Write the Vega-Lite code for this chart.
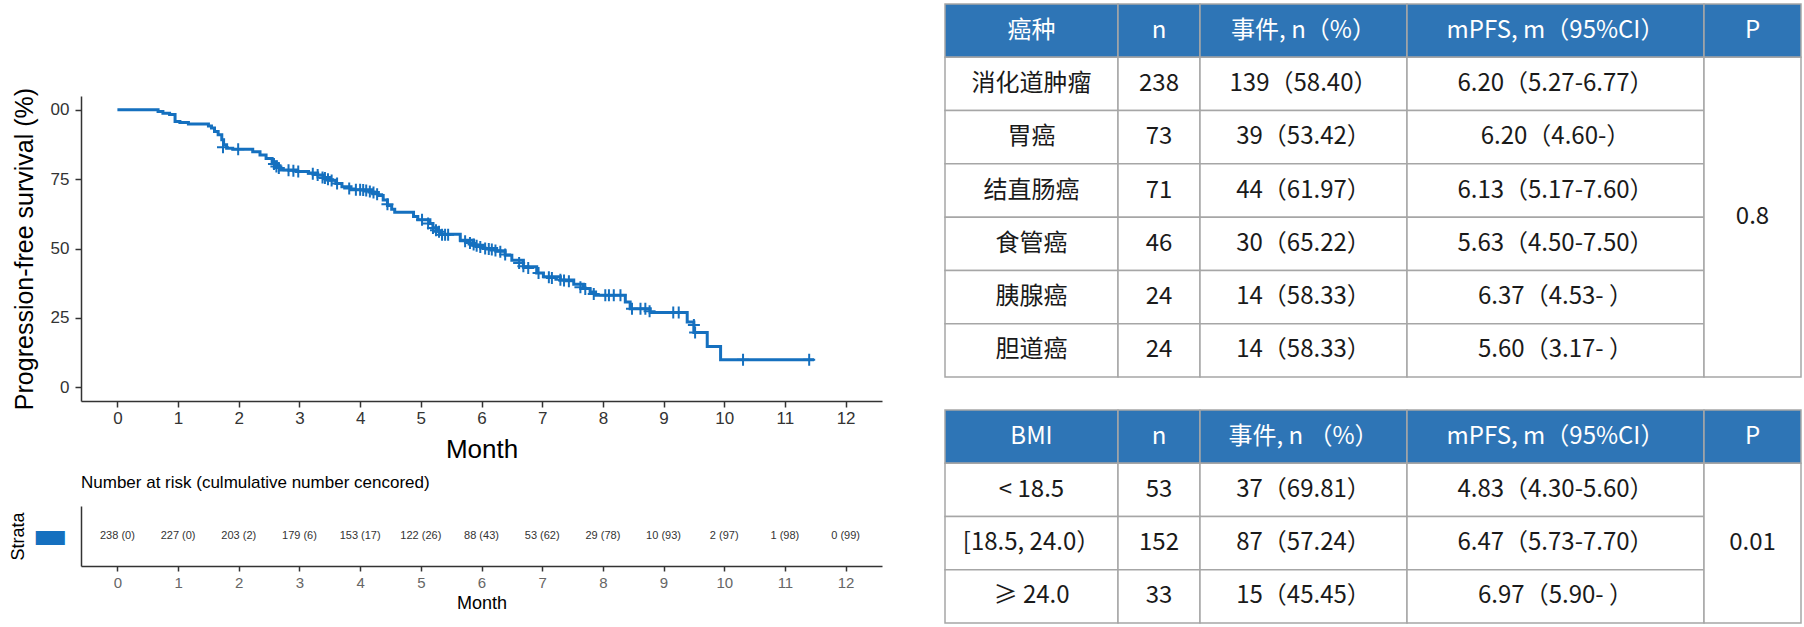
{
  "$schema": "https://vega.github.io/schema/vega-lite/v6.json",
  "background": "white",
  "padding": {"left": 9, "top": 3, "right": 0, "bottom": 0},
  "config": {"view": {"stroke": null}, "font": "Liberation Sans"},
  "datasets": {
    "km": [
      {"t":0,"s":100},{"t":0.67,"s":99.4},{"t":0.75,"s":98.8},{"t":0.86,"s":98.3},{"t":0.95,"s":95.8},{"t":1.03,"s":95.4},{"t":1.17,"s":94.9},{"t":1.5,"s":94.2},{"t":1.55,"s":93.5},{"t":1.6,"s":92.2},{"t":1.66,"s":91},{"t":1.72,"s":89.2},{"t":1.75,"s":87.4},{"t":1.8,"s":86.2},{"t":1.9,"s":85.8},{"t":2.23,"s":84.9},{"t":2.35,"s":83.7},{"t":2.45,"s":82.5},{"t":2.55,"s":81.3},{"t":2.62,"s":79.8},{"t":2.68,"s":78.3},{"t":2.95,"s":77.8},{"t":3.15,"s":77.2},{"t":3.3,"s":76.5},{"t":3.4,"s":75.6},{"t":3.5,"s":74.6},{"t":3.6,"s":73.4},{"t":3.7,"s":72.3},{"t":3.85,"s":71.2},{"t":4.2,"s":70.2},{"t":4.3,"s":69.1},{"t":4.38,"s":67.5},{"t":4.45,"s":65.5},{"t":4.52,"s":64.2},{"t":4.57,"s":63.1},{"t":4.88,"s":61.5},{"t":4.95,"s":60.4},{"t":5.15,"s":59},{"t":5.2,"s":57.5},{"t":5.28,"s":56.2},{"t":5.33,"s":55.1},{"t":5.65,"s":53},{"t":5.87,"s":51.2},{"t":6.03,"s":50},{"t":6.25,"s":49.2},{"t":6.39,"s":47.6},{"t":6.5,"s":45.8},{"t":6.69,"s":43.4},{"t":6.91,"s":41.2},{"t":7.02,"s":39.8},{"t":7.3,"s":38.6},{"t":7.52,"s":37.1},{"t":7.68,"s":35.6},{"t":7.79,"s":34.3},{"t":7.88,"s":33.1},{"t":8.37,"s":30.7},{"t":8.45,"s":28.3},{"t":8.78,"s":26.9},{"t":9.39,"s":23.5},{"t":9.5,"s":19.7},{"t":9.72,"s":14.7},{"t":9.94,"s":9.9},{"t":11.48,"s":9.9}
    ],
    "cens": [
      {"t":1.74,"s":86.5},{"t":1.99,"s":85.8},{"t":2.58,"s":80.5},{"t":2.62,"s":79.6},{"t":2.66,"s":79},{"t":2.82,"s":78.2},{"t":2.9,"s":78},{"t":2.98,"s":77.8},{"t":3.22,"s":77},{"t":3.3,"s":76.5},{"t":3.38,"s":75.6},{"t":3.42,"s":75.4},{"t":3.47,"s":75},{"t":3.53,"s":74.5},{"t":3.62,"s":73.4},{"t":3.82,"s":71.6},{"t":3.93,"s":71.2},{"t":4.0,"s":71.2},{"t":4.05,"s":71.1},{"t":4.1,"s":70.9},{"t":4.16,"s":70.6},{"t":4.22,"s":70.2},{"t":4.28,"s":69.6},{"t":4.45,"s":66},{"t":5.02,"s":60.4},{"t":5.12,"s":59},{"t":5.2,"s":57.4},{"t":5.25,"s":56.6},{"t":5.3,"s":56},{"t":5.35,"s":55},{"t":5.4,"s":55},{"t":5.45,"s":55},{"t":5.73,"s":52.6},{"t":5.81,"s":52},{"t":5.87,"s":51.4},{"t":5.92,"s":51},{"t":5.98,"s":50.5},{"t":6.06,"s":50},{"t":6.12,"s":49.8},{"t":6.17,"s":49.6},{"t":6.23,"s":49.3},{"t":6.31,"s":48.8},{"t":6.39,"s":47.8},{"t":6.62,"s":44.8},{"t":6.69,"s":43.6},{"t":6.77,"s":43},{"t":6.94,"s":41.2},{"t":7.11,"s":39.6},{"t":7.16,"s":39.4},{"t":7.3,"s":38.7},{"t":7.36,"s":38.5},{"t":7.44,"s":38.2},{"t":7.63,"s":36},{"t":7.71,"s":35.4},{"t":7.85,"s":33.6},{"t":8.04,"s":33.1},{"t":8.1,"s":33.1},{"t":8.18,"s":33.1},{"t":8.29,"s":33.1},{"t":8.48,"s":28.3},{"t":8.62,"s":28.3},{"t":8.7,"s":28.3},{"t":8.77,"s":27.4},{"t":9.16,"s":26.9},{"t":9.25,"s":26.9},{"t":9.5,"s":22.4},{"t":9.52,"s":19.7},{"t":10.31,"s":9.9},{"t":11.4,"s":9.9}
    ],
    "risk": [
      {"t":0,"strata":"All","label":"238 (0)"},{"t":1,"strata":"All","label":"227 (0)"},{"t":2,"strata":"All","label":"203 (2)"},{"t":3,"strata":"All","label":"179 (6)"},{"t":4,"strata":"All","label":"153 (17)"},{"t":5,"strata":"All","label":"122 (26)"},{"t":6,"strata":"All","label":"88 (43)"},{"t":7,"strata":"All","label":"53 (62)"},{"t":8,"strata":"All","label":"29 (78)"},{"t":9,"strata":"All","label":"10 (93)"},{"t":10,"strata":"All","label":"2 (97)"},{"t":11,"strata":"All","label":"1 (98)"},{"t":12,"strata":"All","label":"0 (99)"}
    ],
    "cells": [
      {"c0":0,"c1":1,"r0":0,"r1":1,"kind":"head","text":"癌种"},
      {"c0":1,"c1":2,"r0":0,"r1":1,"kind":"head","text":"n"},
      {"c0":2,"c1":3,"r0":0,"r1":1,"kind":"head","text":"事件, n（%）"},
      {"c0":3,"c1":4,"r0":0,"r1":1,"kind":"head","text":"mPFS, m（95%CI）"},
      {"c0":4,"c1":5,"r0":0,"r1":1,"kind":"head","text":"P"},
      {"c0":0,"c1":1,"r0":1,"r1":2,"kind":"body","text":"消化道肿瘤"},
      {"c0":1,"c1":2,"r0":1,"r1":2,"kind":"body","text":"238"},
      {"c0":2,"c1":3,"r0":1,"r1":2,"kind":"body","text":"139（58.40）"},
      {"c0":3,"c1":4,"r0":1,"r1":2,"kind":"body","text":"6.20（5.27-6.77）"},
      {"c0":0,"c1":1,"r0":2,"r1":3,"kind":"body","text":"胃癌"},
      {"c0":1,"c1":2,"r0":2,"r1":3,"kind":"body","text":"73"},
      {"c0":2,"c1":3,"r0":2,"r1":3,"kind":"body","text":"39（53.42）"},
      {"c0":3,"c1":4,"r0":2,"r1":3,"kind":"body","text":"6.20（4.60-）"},
      {"c0":0,"c1":1,"r0":3,"r1":4,"kind":"body","text":"结直肠癌"},
      {"c0":1,"c1":2,"r0":3,"r1":4,"kind":"body","text":"71"},
      {"c0":2,"c1":3,"r0":3,"r1":4,"kind":"body","text":"44（61.97）"},
      {"c0":3,"c1":4,"r0":3,"r1":4,"kind":"body","text":"6.13（5.17-7.60）"},
      {"c0":0,"c1":1,"r0":4,"r1":5,"kind":"body","text":"食管癌"},
      {"c0":1,"c1":2,"r0":4,"r1":5,"kind":"body","text":"46"},
      {"c0":2,"c1":3,"r0":4,"r1":5,"kind":"body","text":"30（65.22）"},
      {"c0":3,"c1":4,"r0":4,"r1":5,"kind":"body","text":"5.63（4.50-7.50）"},
      {"c0":0,"c1":1,"r0":5,"r1":6,"kind":"body","text":"胰腺癌"},
      {"c0":1,"c1":2,"r0":5,"r1":6,"kind":"body","text":"24"},
      {"c0":2,"c1":3,"r0":5,"r1":6,"kind":"body","text":"14（58.33）"},
      {"c0":3,"c1":4,"r0":5,"r1":6,"kind":"body","text":"6.37（4.53- ）"},
      {"c0":0,"c1":1,"r0":6,"r1":7,"kind":"body","text":"胆道癌"},
      {"c0":1,"c1":2,"r0":6,"r1":7,"kind":"body","text":"24"},
      {"c0":2,"c1":3,"r0":6,"r1":7,"kind":"body","text":"14（58.33）"},
      {"c0":3,"c1":4,"r0":6,"r1":7,"kind":"body","text":"5.60（3.17- ）"},
      {"c0":4,"c1":5,"r0":1,"r1":7,"kind":"body","text":"0.8"},
      {"c0":0,"c1":1,"r0":8,"r1":9,"kind":"head","text":"BMI"},
      {"c0":1,"c1":2,"r0":8,"r1":9,"kind":"head","text":"n"},
      {"c0":2,"c1":3,"r0":8,"r1":9,"kind":"head","text":"事件, n （%）"},
      {"c0":3,"c1":4,"r0":8,"r1":9,"kind":"head","text":"mPFS, m（95%CI）"},
      {"c0":4,"c1":5,"r0":8,"r1":9,"kind":"head","text":"P"},
      {"c0":0,"c1":1,"r0":9,"r1":10,"kind":"body","text":"< 18.5"},
      {"c0":1,"c1":2,"r0":9,"r1":10,"kind":"body","text":"53"},
      {"c0":2,"c1":3,"r0":9,"r1":10,"kind":"body","text":"37（69.81）"},
      {"c0":3,"c1":4,"r0":9,"r1":10,"kind":"body","text":"4.83（4.30-5.60）"},
      {"c0":0,"c1":1,"r0":10,"r1":11,"kind":"body","text":"[18.5, 24.0）"},
      {"c0":1,"c1":2,"r0":10,"r1":11,"kind":"body","text":"152"},
      {"c0":2,"c1":3,"r0":10,"r1":11,"kind":"body","text":"87（57.24）"},
      {"c0":3,"c1":4,"r0":10,"r1":11,"kind":"body","text":"6.47（5.73-7.70）"},
      {"c0":0,"c1":1,"r0":11,"r1":12,"kind":"body","text":"≥ 24.0"},
      {"c0":1,"c1":2,"r0":11,"r1":12,"kind":"body","text":"33"},
      {"c0":2,"c1":3,"r0":11,"r1":12,"kind":"body","text":"15（45.45）"},
      {"c0":3,"c1":4,"r0":11,"r1":12,"kind":"body","text":"6.97（5.90- ）"},
      {"c0":4,"c1":5,"r0":9,"r1":12,"kind":"body","text":"0.01"}
    ]
  },
  "spacing": 62,
  "hconcat": [
    {
      "bounds": "flush",
      "spacing": 105,
      "vconcat": [
        {
          "width": 801,
          "height": 397,
          "layer": [
            {
              "data": {"name": "km"},
              "mark": {"type": "line", "interpolate": "step-after", "color": "#1570BF", "strokeWidth": 3},
              "encoding": {
                "x": {"field": "t", "type": "quantitative",
                  "scale": {"domain": [-0.6, 12.6], "nice": false, "zero": false},
                  "axis": {"values": [0,1,2,3,4,5,6,7,8,9,10,11,12], "format": "d", "title": "Month", "titleFontSize": 26, "titleFontWeight": "normal", "titleColor": "black", "titlePadding": 10,
                    "labelFontSize": 17, "labelColor": "#333333", "labelPadding": 3, "labelFlush": false, "tickSize": 6, "tickColor": "#333333", "tickWidth": 1.5, "domainColor": "#333333", "domainWidth": 1.5, "grid": false}},
                "y": {"field": "s", "type": "quantitative",
                  "scale": {"domain": [-5, 105], "range": [397, 92], "nice": false, "zero": false},
                  "axis": {"values": [0,25,50,75,100], "format": "d", "labelExpr": "datum.value == 100 ? '00' : datum.label", "title": "Progression-free survival (%)", "titleFontSize": 25, "titleFontWeight": "normal", "titleColor": "black", "titlePadding": 13,
                    "labelFontSize": 17, "labelColor": "#333333", "labelPadding": 6, "labelFlush": false, "tickSize": 6, "tickColor": "#333333", "tickWidth": 1.5, "domainColor": "#333333", "domainWidth": 1.5, "grid": false}}
              }
            },
            {
              "data": {"name": "cens"},
              "mark": {"type": "point", "shape": "M-1,0H1M0,-1V1", "size": 144, "strokeWidth": 2, "color": "#1570BF", "filled": false, "opacity": 1},
              "encoding": {
                "x": {"field": "t", "type": "quantitative"},
                "y": {"field": "s", "type": "quantitative"}
              }
            }
          ]
        },
        {
          "width": 801,
          "height": 60,
          "title": {"text": "Number at risk (culmulative number cencored)", "anchor": "start", "fontSize": 17, "fontWeight": "normal", "color": "black", "offset": 14, "frame": "group"},
          "data": {"name": "risk"},
          "mark": {"type": "text", "fontSize": 11, "color": "#333333"},
          "encoding": {
            "x": {"field": "t", "type": "quantitative",
              "scale": {"domain": [-0.6, 12.6], "nice": false, "zero": false},
              "axis": {"values": [0,1,2,3,4,5,6,7,8,9,10,11,12], "format": "d", "title": "Month", "titleFontSize": 18, "titleFontWeight": "normal", "titleColor": "black", "titlePadding": 4,
                "labelFontSize": 15, "labelColor": "#666666", "labelPadding": 4, "tickSize": 5, "tickColor": "#333333", "tickWidth": 1.5, "domainColor": "#333333", "domainWidth": 1.5, "grid": false}},
            "y": {"field": "strata", "type": "nominal",
              "axis": {"title": "Strata", "titleFontSize": 18, "titleFontWeight": "normal", "titleColor": "black", "titlePadding": 5,
                "labelExpr": "'▬'", "labelFont": "DejaVu Sans", "labelFontSize": 38, "labelColor": "#1570BF", "labelPadding": 13, "ticks": false, "domainColor": "#333333", "domainWidth": 1.5, "grid": false}},
            "text": {"field": "label"}
          }
        }
      ]
    },
    {
      "width": 856,
      "height": 619,
      "data": {"name": "cells"},
      "transform": [
        {"calculate": "(datum.c0 + datum.c1) / 2", "as": "cm"},
        {"calculate": "(datum.r0 + datum.r1) / 2", "as": "rm"}
      ],
      "layer": [
        {
          "mark": {"type": "rect", "stroke": "#A6A6A6", "strokeWidth": 1.5},
          "encoding": {
            "x": {"field": "c0", "type": "quantitative", "scale": {"domain": [0,1,2,3,4,5], "range": [0,173,255,462,759,856], "nice": false, "zero": false}, "axis": null},
            "x2": {"field": "c1"},
            "y": {"field": "r0", "type": "quantitative", "scale": {"domain": [0,7,8,12], "range": [0,373,406,619], "nice": false, "zero": false}, "axis": null},
            "y2": {"field": "r1"},
            "fill": {"field": "kind", "type": "nominal", "scale": {"domain": ["head","body"], "range": ["#2E75B6","#FFFFFF"]}, "legend": null}
          }
        },
        {
          "mark": {"type": "text", "fontSize": 24, "font": "Noto Sans CJK SC", "align": "center", "baseline": "middle"},
          "encoding": {
            "x": {"field": "cm", "type": "quantitative"},
            "y": {"field": "rm", "type": "quantitative"},
            "text": {"field": "text"},
            "color": {"field": "kind", "type": "nominal", "scale": {"domain": ["head","body"], "range": ["#FFFFFF","#1A1A1A"]}, "legend": null}
          }
        }
      ]
    }
  ]
}
